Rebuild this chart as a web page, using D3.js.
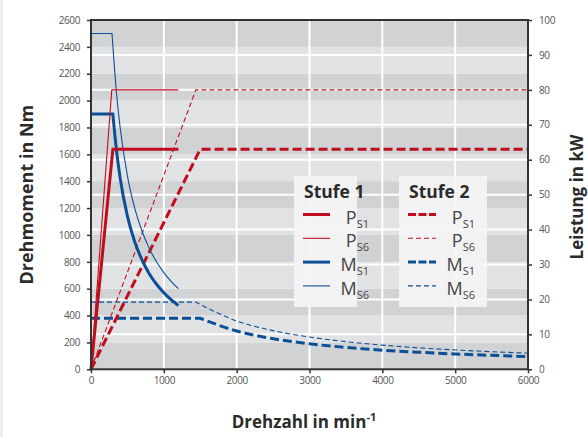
<!DOCTYPE html>
<html>
<head>
<meta charset="utf-8">
<script src="https://cdn.jsdelivr.net/npm/d3@7/dist/d3.min.js"></script>
<style>
  body { margin: 0; background: #fff; }
  svg { display: block; }
  text { font-family: "Open Sans", "DejaVu Sans", sans-serif; }
</style>
</head>
<body>
<svg id="chart" width="588" height="437"></svg>
<script>
// Axis ticks
const speedTicks = [0, 1000, 2000, 3000, 4000, 5000, 6000];          // min^-1
const torqueTicks = d3.range(0, 2601, 200);                          // Nm
const powerTicks = [0, 10, 20, 30, 40, 50, 60, 70, 80, 90, 100];     // kW

// Stufe 1 – Leistung (kW) over Drehzahl
const s1PowerS1Rpm = [0, 300, 1200];
const s1PowerS1Kw  = [0, 63, 63];
const s1PowerS6Rpm = [0, 285, 1200];
const s1PowerS6Kw  = [0, 80, 80];

// Stufe 1 – Drehmoment (Nm); flat part, then falling part
const s1TorqueS1Rpm = [0, 300, 350, 400, 500, 600, 700, 800, 900, 1000, 1100, 1200];
const s1TorqueS1Nm  = [1900, 1900, 1630, 1425, 1140, 950, 815, 712, 633, 570, 518, 475];
const s1TorqueS6Rpm = [0, 288, 350, 400, 500, 600, 700, 800, 900, 1000, 1100, 1200];
const s1TorqueS6Nm  = [2500, 2500, 2057, 1800, 1440, 1200, 1029, 900, 800, 720, 655, 600];

// Stufe 2 – Leistung (kW)
const s2PowerS1Rpm = [0, 1500, 6000];
const s2PowerS1Kw  = [0, 63, 63];
const s2PowerS6Rpm = [0, 1440, 6000];
const s2PowerS6Kw  = [0, 80, 80];

// Stufe 2 – Drehmoment (Nm)
const s2TorqueS1Rpm = [0, 1500, 2000, 2500, 3000, 3500, 4000, 4500, 5000, 5500, 6000];
const s2TorqueS1Nm  = [380, 380, 285, 228, 190, 163, 142, 127, 114, 104, 95];
const s2TorqueS6Rpm = [0, 1440, 2000, 2500, 3000, 3500, 4000, 4500, 5000, 5500, 6000];
const s2TorqueS6Nm  = [500, 500, 360, 288, 240, 206, 180, 160, 144, 131, 120];

const RED = "#c00d1e";
const BLUE = "#0b4f96";

const svg = d3.select("#chart");
const W = 588, H = 437;
const plot = { left: 91, right: 528, top: 20, bottom: 369.3 };

const x = d3.scaleLinear().domain([0, 6000]).range([plot.left, plot.right]);
const yT = d3.scaleLinear().domain([0, 2600]).range([plot.bottom, plot.top]);
const yP = d3.scaleLinear().domain([0, 100]).range([plot.bottom, plot.top]);

// faint page edge
svg.append("line").attr("x1", 1.5).attr("x2", 1.5).attr("y1", 0).attr("y2", H)
  .attr("stroke", "#e6e6e6").attr("stroke-width", 2);

// alternating background bands, 200 Nm each
const bands = torqueTicks.slice(0, -1);
svg.append("g").selectAll("rect").data(bands).join("rect")
  .attr("x", plot.left)
  .attr("width", plot.right - plot.left)
  .attr("y", d => yT(d + 200))
  .attr("height", d => yT(d) - yT(d + 200))
  .attr("fill", d => ((d / 200) % 2 === 0) ? "#d1d2d4" : "#e1e2e4");

// white grid: kW lines and speed lines
const grid = svg.append("g").attr("stroke", "#fff").attr("stroke-width", 2);
grid.selectAll("line.h").data(powerTicks.slice(1, -1)).join("line")
  .attr("class", "h")
  .attr("x1", plot.left).attr("x2", plot.right)
  .attr("y1", d => yP(d)).attr("y2", d => yP(d));
grid.selectAll("line.v").data(speedTicks.slice(1, -1)).join("line")
  .attr("class", "v")
  .attr("y1", plot.top).attr("y2", plot.bottom)
  .attr("x1", d => x(d)).attr("x2", d => x(d));

// path builders
function zip(a, b) { return a.map((v, i) => [v, b[i]]); }
const linTorque = d3.line().x(d => x(d[0])).y(d => yT(d[1]));
const linPower = d3.line().x(d => x(d[0])).y(d => yP(d[1]));
const smoothTorque = d3.line().x(d => x(d[0])).y(d => yT(d[1])).curve(d3.curveMonotoneX);

// flat segment drawn straight, falling segment drawn smooth
function torquePath(rpm, nm) {
  const pts = zip(rpm, nm);
  const flat = pts.slice(0, 2);
  const fall = pts.slice(1);
  return linTorque(flat) + smoothTorque(fall).replace(/^M[^LC]*/, "");
}

const lines = svg.append("g").attr("fill", "none").attr("stroke-linejoin", "miter");

const series = [
  { d: torquePath(s2TorqueS6Rpm, s2TorqueS6Nm), c: BLUE, w: 1.1, dash: "5,3" },
  { d: torquePath(s2TorqueS1Rpm, s2TorqueS1Nm), c: BLUE, w: 3, dash: "9,4" },
  { d: linPower(zip(s2PowerS6Rpm, s2PowerS6Kw)), c: RED, w: 1.1, dash: "5,3" },
  { d: linPower(zip(s2PowerS1Rpm, s2PowerS1Kw)), c: RED, w: 3, dash: "9,4" },
  { d: torquePath(s1TorqueS6Rpm, s1TorqueS6Nm), c: BLUE, w: 1.1, dash: null },
  { d: torquePath(s1TorqueS1Rpm, s1TorqueS1Nm), c: BLUE, w: 3, dash: null },
  { d: linPower(zip(s1PowerS6Rpm, s1PowerS6Kw)), c: RED, w: 1.1, dash: null },
  { d: linPower(zip(s1PowerS1Rpm, s1PowerS1Kw)), c: RED, w: 3, dash: null }
];
lines.selectAll("path").data(series).join("path")
  .attr("d", s => s.d)
  .attr("stroke", s => s.c)
  .attr("stroke-width", s => s.w)
  .attr("stroke-dasharray", s => s.dash);

// axes
const axisColor = "#333";
function styleAxis(g) {
  g.select(".domain").remove();
  g.selectAll(".tick line").attr("stroke", axisColor).attr("stroke-width", 1.5);
  g.selectAll(".tick text").attr("fill", "#555").attr("font-size", 10)
    .attr("font-family", "'Open Sans', sans-serif").style("letter-spacing", "-0.4px");
}
svg.append("g").attr("transform", `translate(${plot.left},0)`)
  .call(d3.axisLeft(yT).tickValues(torqueTicks).tickSize(4).tickPadding(7).tickFormat(d3.format("d")))
  .call(styleAxis);
svg.append("g").attr("transform", `translate(${plot.right},0)`)
  .call(d3.axisRight(yP).tickValues(powerTicks).tickSize(4).tickPadding(7).tickFormat(d3.format("d")))
  .call(styleAxis);
svg.append("g").attr("transform", `translate(0,${plot.bottom})`)
  .call(d3.axisBottom(x).tickValues(speedTicks).tickSize(4).tickPadding(4).tickFormat(d3.format("d")))
  .call(styleAxis);

// frame
svg.append("rect")
  .attr("x", plot.left).attr("y", plot.top)
  .attr("width", plot.right - plot.left).attr("height", plot.bottom - plot.top)
  .attr("fill", "none").attr("stroke", axisColor).attr("stroke-width", 2);

// axis titles
svg.append("text")
  .attr("transform", `translate(33,${(plot.top + plot.bottom) / 2}) rotate(-90)`)
  .attr("text-anchor", "middle").attr("font-weight", 700).attr("font-size", 18)
  .attr("fill", "#2b2b2b").text("Drehmoment in Nm");
svg.append("text")
  .attr("transform", `translate(583,197) rotate(-90)`)
  .attr("text-anchor", "middle").attr("font-weight", 700).attr("font-size", 17)
  .attr("fill", "#2b2b2b").text("Leistung in kW");
const xt = svg.append("text")
  .attr("x", 304).attr("y", 428)
  .attr("text-anchor", "middle").attr("font-weight", 700).attr("font-size", 17)
  .attr("fill", "#2b2b2b");
xt.append("tspan").text("Drehzahl in min");
xt.append("tspan").attr("dy", -7).attr("font-size", 11).text("-1");

// legend
const legendGroups = [
  { title: "Stufe 1", bx: 294, bw: 63, lx: 303, lw: 27, tx: 369,
    rows: [
      { sym: "P", c: RED, w: 3, dash: null },
      { sym: "P", c: RED, w: 1.1, dash: null, sub: "S6" },
      { sym: "M", c: BLUE, w: 3, dash: null },
      { sym: "M", c: BLUE, w: 1.1, dash: null, sub: "S6" }
    ] },
  { title: "Stufe 2", bx: 399, bw: 88, lx: 408, lw: 28, tx: 475,
    rows: [
      { sym: "P", c: RED, w: 3, dash: "8,2.5" },
      { sym: "P", c: RED, w: 1.1, dash: "5,3", sub: "S6" },
      { sym: "M", c: BLUE, w: 3, dash: "8,2.5" },
      { sym: "M", c: BLUE, w: 1.1, dash: "5,3", sub: "S6" }
    ] }
];
legendGroups.forEach(g => {
  const lg = svg.append("g");
  lg.append("rect").attr("x", g.bx).attr("y", 176).attr("width", g.bw).attr("height", 131)
    .attr("fill", "#f5f5f6").attr("fill-opacity", 0.9);
  lg.append("text").attr("x", g.bx + 10).attr("y", 197.5)
    .attr("font-size", 17.5).attr("font-weight", 700).attr("fill", "#2b2b2b").text(g.title);
  g.rows.forEach((r, i) => {
    const ly = 214.5 + i * 23.8;
    lg.append("line").attr("x1", g.lx).attr("x2", g.lx + g.lw).attr("y1", ly).attr("y2", ly)
      .attr("stroke", r.c).attr("stroke-width", r.w).attr("stroke-dasharray", r.dash);
    const t = lg.append("text").attr("x", g.tx).attr("y", ly + 9)
      .attr("text-anchor", "end").attr("fill", "#444").attr("font-size", 18);
    t.append("tspan").text(r.sym);
    t.append("tspan").attr("font-size", 11).attr("dy", 4).text(r.sub || "S1");
  });
});
</script>
</body>
</html>
